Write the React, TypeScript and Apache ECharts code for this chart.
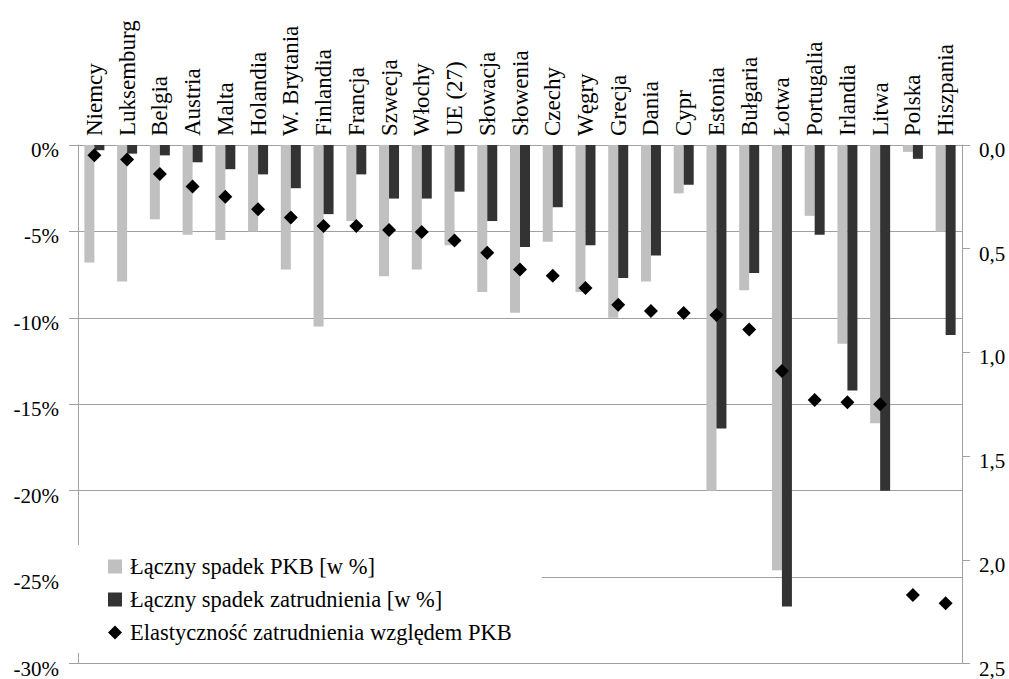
import React, { useEffect, useRef } from 'react';
import * as echarts from 'echarts';

const FONT = 'Liberation Serif';

const categories = [
  'Niemcy', 'Luksemburg', 'Belgia', 'Austria', 'Malta', 'Holandia', 'W. Brytania',
  'Finlandia', 'Francja', 'Szwecja', 'Włochy', 'UE (27)', 'Słowacja', 'Słowenia',
  'Czechy', 'Węgry', 'Grecja', 'Dania', 'Cypr', 'Estonia', 'Bułgaria', 'Łotwa',
  'Portugalia', 'Irlandia', 'Litwa', 'Polska', 'Hiszpania',
];

const gdpDrop = [
  -6.8, -7.9, -4.3, -5.2, -5.5, -5.0, -7.2, -10.5, -4.4, -7.6, -7.2, -5.8, -8.5, -9.7,
  -5.6, -8.5, -10.0, -7.9, -2.8, -20.0, -8.4, -24.6, -4.1, -11.5, -16.1, -0.4, -5.0,
];

const employmentDrop = [
  -0.3, -0.5, -0.6, -1.0, -1.4, -1.7, -2.5, -4.0, -1.7, -3.1, -3.1, -2.7, -4.4, -5.9,
  -3.6, -5.8, -7.7, -6.4, -2.3, -16.4, -7.4, -26.7, -5.2, -14.2, -20.0, -0.8, -11.0,
];

const elasticity = [
  0.05, 0.07, 0.14, 0.20, 0.25, 0.31, 0.35, 0.39, 0.39, 0.41, 0.42, 0.46, 0.52, 0.60,
  0.63, 0.69, 0.77, 0.80, 0.81, 0.82, 0.89, 1.09, 1.23, 1.24, 1.25, 2.17, 2.21,
];

const seriesNames = [
  'Łączny spadek PKB [w %]',
  'Łączny spadek zatrudnienia [w %]',
  'Elastyczność zatrudnienia względem PKB',
];

const GRID = '#a0a0a0';

const labelRich = {
  a: { fontFamily: FONT, fontSize: 21, color: '#000', padding: [10, 0, 0, 0] },
};

export default function App() {
  const ref = useRef<HTMLDivElement>(null);

  useEffect(() => {
    const chart = echarts.init(ref.current!, null, { renderer: 'svg' });
    chart.setOption({
      animation: false,
      textStyle: { fontFamily: FONT, color: '#000' },
      grid: { left: 78, right: 47, top: 145, bottom: 13, containLabel: false },
      xAxis: {
        type: 'category',
        position: 'top',
        data: categories,
        axisLine: { onZero: false, lineStyle: { color: GRID } },
        axisTick: { show: false },
        axisLabel: {
          interval: 0,
          rotate: -90,
          margin: 9,
          fontSize: 23,
          color: '#000',
          fontFamily: FONT,
        },
      },
      yAxis: [
        {
          type: 'value',
          min: -30,
          max: 0,
          interval: 5,
          position: 'left',
          axisLine: { show: true, lineStyle: { color: GRID } },
          axisTick: { show: true, length: 9, lineStyle: { color: GRID } },
          axisLabel: {
            formatter: (v: number) => '{a|' + v + '%}',
            margin: 19,
            fontFamily: FONT,
            fontSize: 21,
            color: '#000',
            rich: labelRich,
          },
          splitLine: { show: true, lineStyle: { color: GRID, width: 1 } },
        },
        {
          type: 'value',
          min: 0,
          max: 2.5,
          interval: 0.5,
          inverse: true,
          position: 'right',
          axisLine: { show: true, lineStyle: { color: GRID } },
          axisTick: { show: true, length: 8, lineStyle: { color: GRID } },
          axisLabel: {
            formatter: (v: number) => '{a|' + v.toFixed(1).replace('.', ',') + '}',
            margin: 17,
            fontFamily: FONT,
            fontSize: 21,
            color: '#000',
            rich: labelRich,
          },
          splitLine: { show: false },
        },
      ],
      legend: {
        orient: 'vertical',
        left: 108,
        top: 555,
        padding: 0,
        itemWidth: 14,
        itemHeight: 14,
        itemGap: 10,
        formatter: (name: string) => '{a|' + name + '}',
        textStyle: {
          fontSize: 22.5,
          fontFamily: FONT,
          color: '#000',
          rich: {
            a: { fontFamily: FONT, fontSize: 22.5, lineHeight: 24, color: '#000', padding: [0, 0, 0, 3] },
          },
        },
        data: [
          { name: seriesNames[0], icon: 'rect' },
          { name: seriesNames[1], icon: 'rect' },
          { name: seriesNames[2], icon: 'diamond' },
        ],
      },
      graphic: [
        {
          type: 'rect',
          z: 3,
          silent: true,
          shape: { x: 62, y: 545, width: 480, height: 108 },
          style: { fill: '#ffffff' },
        },
      ],
      series: [
        {
          name: seriesNames[0],
          type: 'bar',
          data: gdpDrop,
          barWidth: 10,
          barGap: '0%',
          itemStyle: { color: '#c0c0c0' },
        },
        {
          name: seriesNames[1],
          type: 'bar',
          data: employmentDrop,
          barWidth: 10,
          barGap: '0%',
          itemStyle: { color: '#333333' },
        },
        {
          name: seriesNames[2],
          type: 'scatter',
          yAxisIndex: 1,
          data: elasticity,
          symbol: 'diamond',
          symbolSize: 14,
          itemStyle: { color: '#000000', opacity: 1 },
          z: 5,
        },
      ],
    });
    return () => chart.dispose();
  }, []);

  return (
    <div
      ref={ref}
      style={{ position: 'absolute', left: 0, top: 0, width: 1009, height: 679, background: '#fff' }}
    />
  );
}
